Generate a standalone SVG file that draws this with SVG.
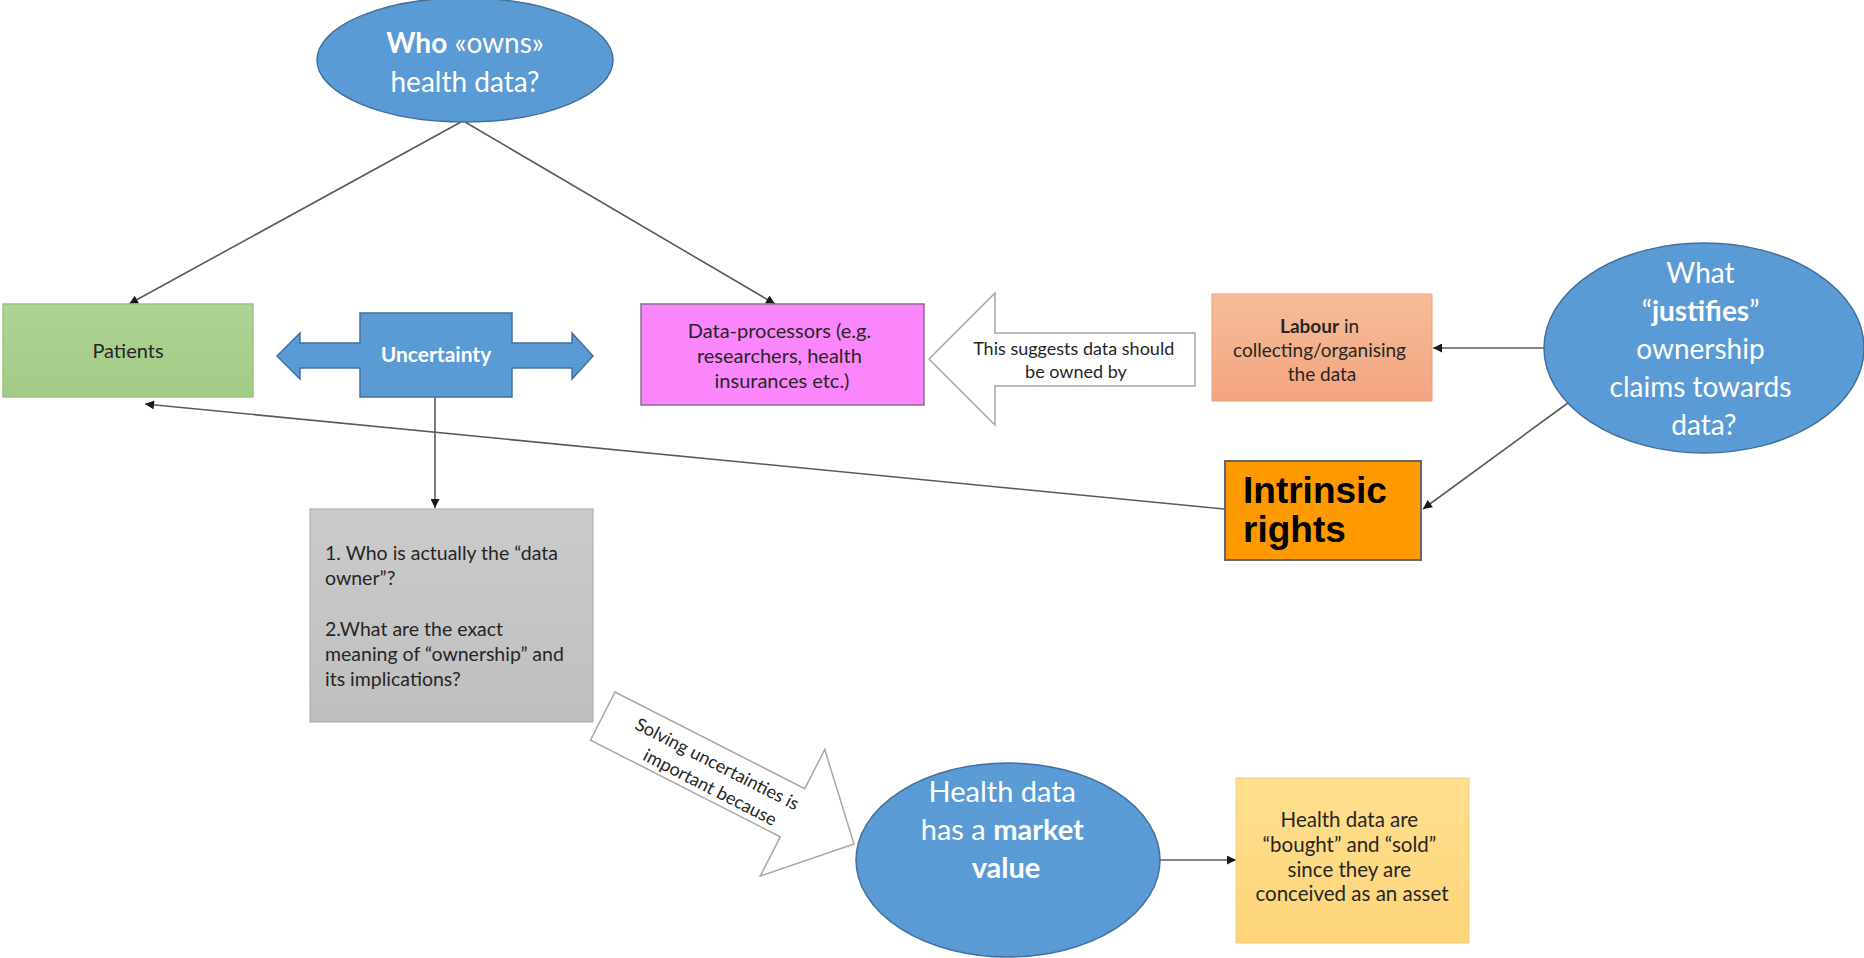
<svg xmlns="http://www.w3.org/2000/svg" width="1864" height="958" viewBox="0 0 1864 958">
  <defs>
    <style>
      .t { font-family: Lato, "Open Sans", "Noto Sans", sans-serif; }
      .dark { fill: #262626; }
      .white { fill: #ffffff; }
      .link { fill: none; stroke: #5a5a5a; stroke-width: 1.6; }
      .blue { fill: #5b9bd5; stroke: #41719c; stroke-width: 1.5; }
      .hollow { fill: #ffffff; stroke: #a6a6a6; stroke-width: 1.5; }
    </style>
    <marker id="head" viewBox="0 0 10 10" refX="10" refY="5" markerWidth="11" markerHeight="9" orient="auto" markerUnits="userSpaceOnUse">
      <path d="M0,0 L10,5 L0,10 z" fill="#1a1a1a"/>
    </marker>
    <linearGradient id="gGreen" x1="0" y1="0" x2="0" y2="1">
      <stop offset="0" stop-color="#aed395"/>
      <stop offset="1" stop-color="#a3ca86"/>
    </linearGradient>
    <linearGradient id="gSalmon" x1="0" y1="0" x2="0" y2="1">
      <stop offset="0" stop-color="#f6bd9a"/>
      <stop offset="1" stop-color="#f3a47f"/>
    </linearGradient>
    <linearGradient id="gGray" x1="0" y1="0" x2="0" y2="1">
      <stop offset="0" stop-color="#cbcbcb"/>
      <stop offset="1" stop-color="#bfbfbf"/>
    </linearGradient>
    <linearGradient id="gYellow" x1="0" y1="0" x2="0" y2="1">
      <stop offset="0" stop-color="#ffdf8e"/>
      <stop offset="1" stop-color="#fdd47a"/>
    </linearGradient>
  </defs>

  <rect width="1864" height="958" fill="#ffffff"/>

  <!-- connectors -->
  <g id="connectors">
    <line class="link" x1="461" y1="122" x2="129" y2="304" marker-end="url(#head)"/>
    <line class="link" x1="465" y1="122" x2="775" y2="304" marker-end="url(#head)"/>
    <line class="link" x1="435" y1="397" x2="435" y2="508" marker-end="url(#head)"/>
    <line class="link" x1="1224" y1="509" x2="145" y2="404" marker-end="url(#head)"/>
    <line class="link" x1="1545" y1="348" x2="1433" y2="348" marker-end="url(#head)"/>
    <line class="link" x1="1572" y1="400" x2="1423" y2="509" marker-end="url(#head)"/>
    <line class="link" x1="1160" y1="860" x2="1236" y2="860" marker-end="url(#head)"/>
  </g>

  <!-- Who owns health data -->
  <g id="who-owns">
    <ellipse class="blue" cx="465" cy="60" rx="148" ry="62"/>
    <text class="t white" x="465" y="53" font-size="28" text-anchor="middle"><tspan font-weight="bold">Who</tspan> «owns»</text>
    <text class="t white" x="465" y="92" font-size="28" text-anchor="middle">health data?</text>
  </g>

  <!-- Patients -->
  <g id="patients">
    <rect x="3" y="304" width="250" height="93" fill="url(#gGreen)" stroke="#9cc383" stroke-width="1.5"/>
    <text class="t dark" x="128" y="358" font-size="20" text-anchor="middle">Patients</text>
  </g>

  <!-- Uncertainty double arrow -->
  <g id="uncertainty">
    <polygon class="blue" points="277,356 300,333 300,343 360,343 360,313 512,313 512,343 572,343 572,333 593,356 572,379 572,368 512,368 512,397 360,397 360,368 300,368 300,379"/>
    <text class="t white" x="436" y="362" font-size="21" font-weight="bold" text-anchor="middle">Uncertainty</text>
  </g>

  <!-- Data processors -->
  <g id="data-processors">
    <rect x="641" y="304" width="283" height="101" fill="#fb86fb" stroke="#8c6f8c" stroke-width="1.5"/>
    <text class="t dark" font-size="20" text-anchor="middle">
      <tspan x="782" y="338">Data-processors (e.g.</tspan>
      <tspan x="782" y="363">researchers, health</tspan>
      <tspan x="782" y="388">insurances etc.)</tspan>
    </text>
  </g>

  <!-- This suggests arrow -->
  <g id="suggests-arrow">
    <polygon class="hollow" points="929,359 995,293 995,333 1195,333 1195,386 995,386 995,425"/>
    <text class="t dark" font-size="18" text-anchor="middle">
      <tspan x="1076" y="355">This suggests data should</tspan>
      <tspan x="1076" y="378">be owned by</tspan>
    </text>
  </g>

  <!-- Labour -->
  <g id="labour">
    <rect x="1212" y="294" width="220" height="107" fill="url(#gSalmon)" stroke="#e9a07c" stroke-width="1"/>
    <text class="t dark" font-size="19" text-anchor="middle">
      <tspan x="1322" y="333"><tspan font-weight="bold">Labour</tspan> in</tspan>
      <tspan x="1322" y="357">collecting/organising</tspan>
      <tspan x="1322" y="381">the data</tspan>
    </text>
  </g>

  <!-- What justifies ownership -->
  <g id="justifies">
    <ellipse class="blue" cx="1704" cy="348" rx="160" ry="105"/>
    <text class="t white" font-size="28" text-anchor="middle">
      <tspan x="1704" y="283">What</tspan>
      <tspan x="1704" y="321">“<tspan font-weight="bold">justifies</tspan>”</tspan>
      <tspan x="1704" y="359">ownership</tspan>
      <tspan x="1704" y="397">claims towards</tspan>
      <tspan x="1704" y="435">data?</tspan>
    </text>
  </g>

  <!-- Intrinsic rights -->
  <g id="intrinsic-rights">
    <rect x="1225" y="461" width="196" height="99" fill="#ff9900" stroke="#666666" stroke-width="2"/>
    <text font-family="'Liberation Sans', Arial, sans-serif" font-size="37" font-weight="bold" fill="#000000">
      <tspan x="1243" y="503">Intrinsic</tspan>
      <tspan x="1243" y="542">rights</tspan>
    </text>
  </g>

  <!-- Questions box -->
  <g id="questions">
    <rect x="310" y="509" width="283" height="213" fill="url(#gGray)" stroke="#a8a8a8" stroke-width="1"/>
    <text class="t dark" font-size="19.5">
      <tspan x="325" y="560">1. Who is actually the “data</tspan>
      <tspan x="325" y="585">owner”?</tspan>
      <tspan x="325" y="636">2.What are the exact</tspan>
      <tspan x="325" y="661">meaning of “ownership” and</tspan>
      <tspan x="325" y="686">its implications?</tspan>
    </text>
  </g>

  <!-- Solving uncertainties arrow -->
  <g id="solving-arrow" transform="translate(615,692) rotate(27)">
    <polygon class="hollow" points="0,0 213,0 213,-44 282,27 213,98 213,54 0,54"/>
    <text class="t dark" font-size="18" text-anchor="middle">
      <tspan x="126" y="24">Solving uncertainties is</tspan>
      <tspan x="128" y="48">important because</tspan>
    </text>
  </g>

  <!-- Market value -->
  <g id="market-value">
    <ellipse class="blue" cx="1008" cy="860" rx="152" ry="97"/>
    <text class="t white" font-size="29" text-anchor="middle">
      <tspan x="1006" y="802">Health data</tspan>
      <tspan x="1006" y="840">has a <tspan font-weight="bold">market</tspan></tspan>
      <tspan x="1006" y="878" font-weight="bold">value</tspan>
    </text>
  </g>

  <!-- Bought and sold -->
  <g id="bought-sold">
    <rect x="1236" y="778" width="233" height="165" fill="url(#gYellow)" stroke="#f3d07a" stroke-width="1"/>
    <text class="t dark" font-size="20.5" text-anchor="middle">
      <tspan x="1352" y="827">Health data are</tspan>
      <tspan x="1352" y="852">“bought” and “sold”</tspan>
      <tspan x="1352" y="877">since they are</tspan>
      <tspan x="1352" y="901">conceived as an asset</tspan>
    </text>
  </g>
</svg>
